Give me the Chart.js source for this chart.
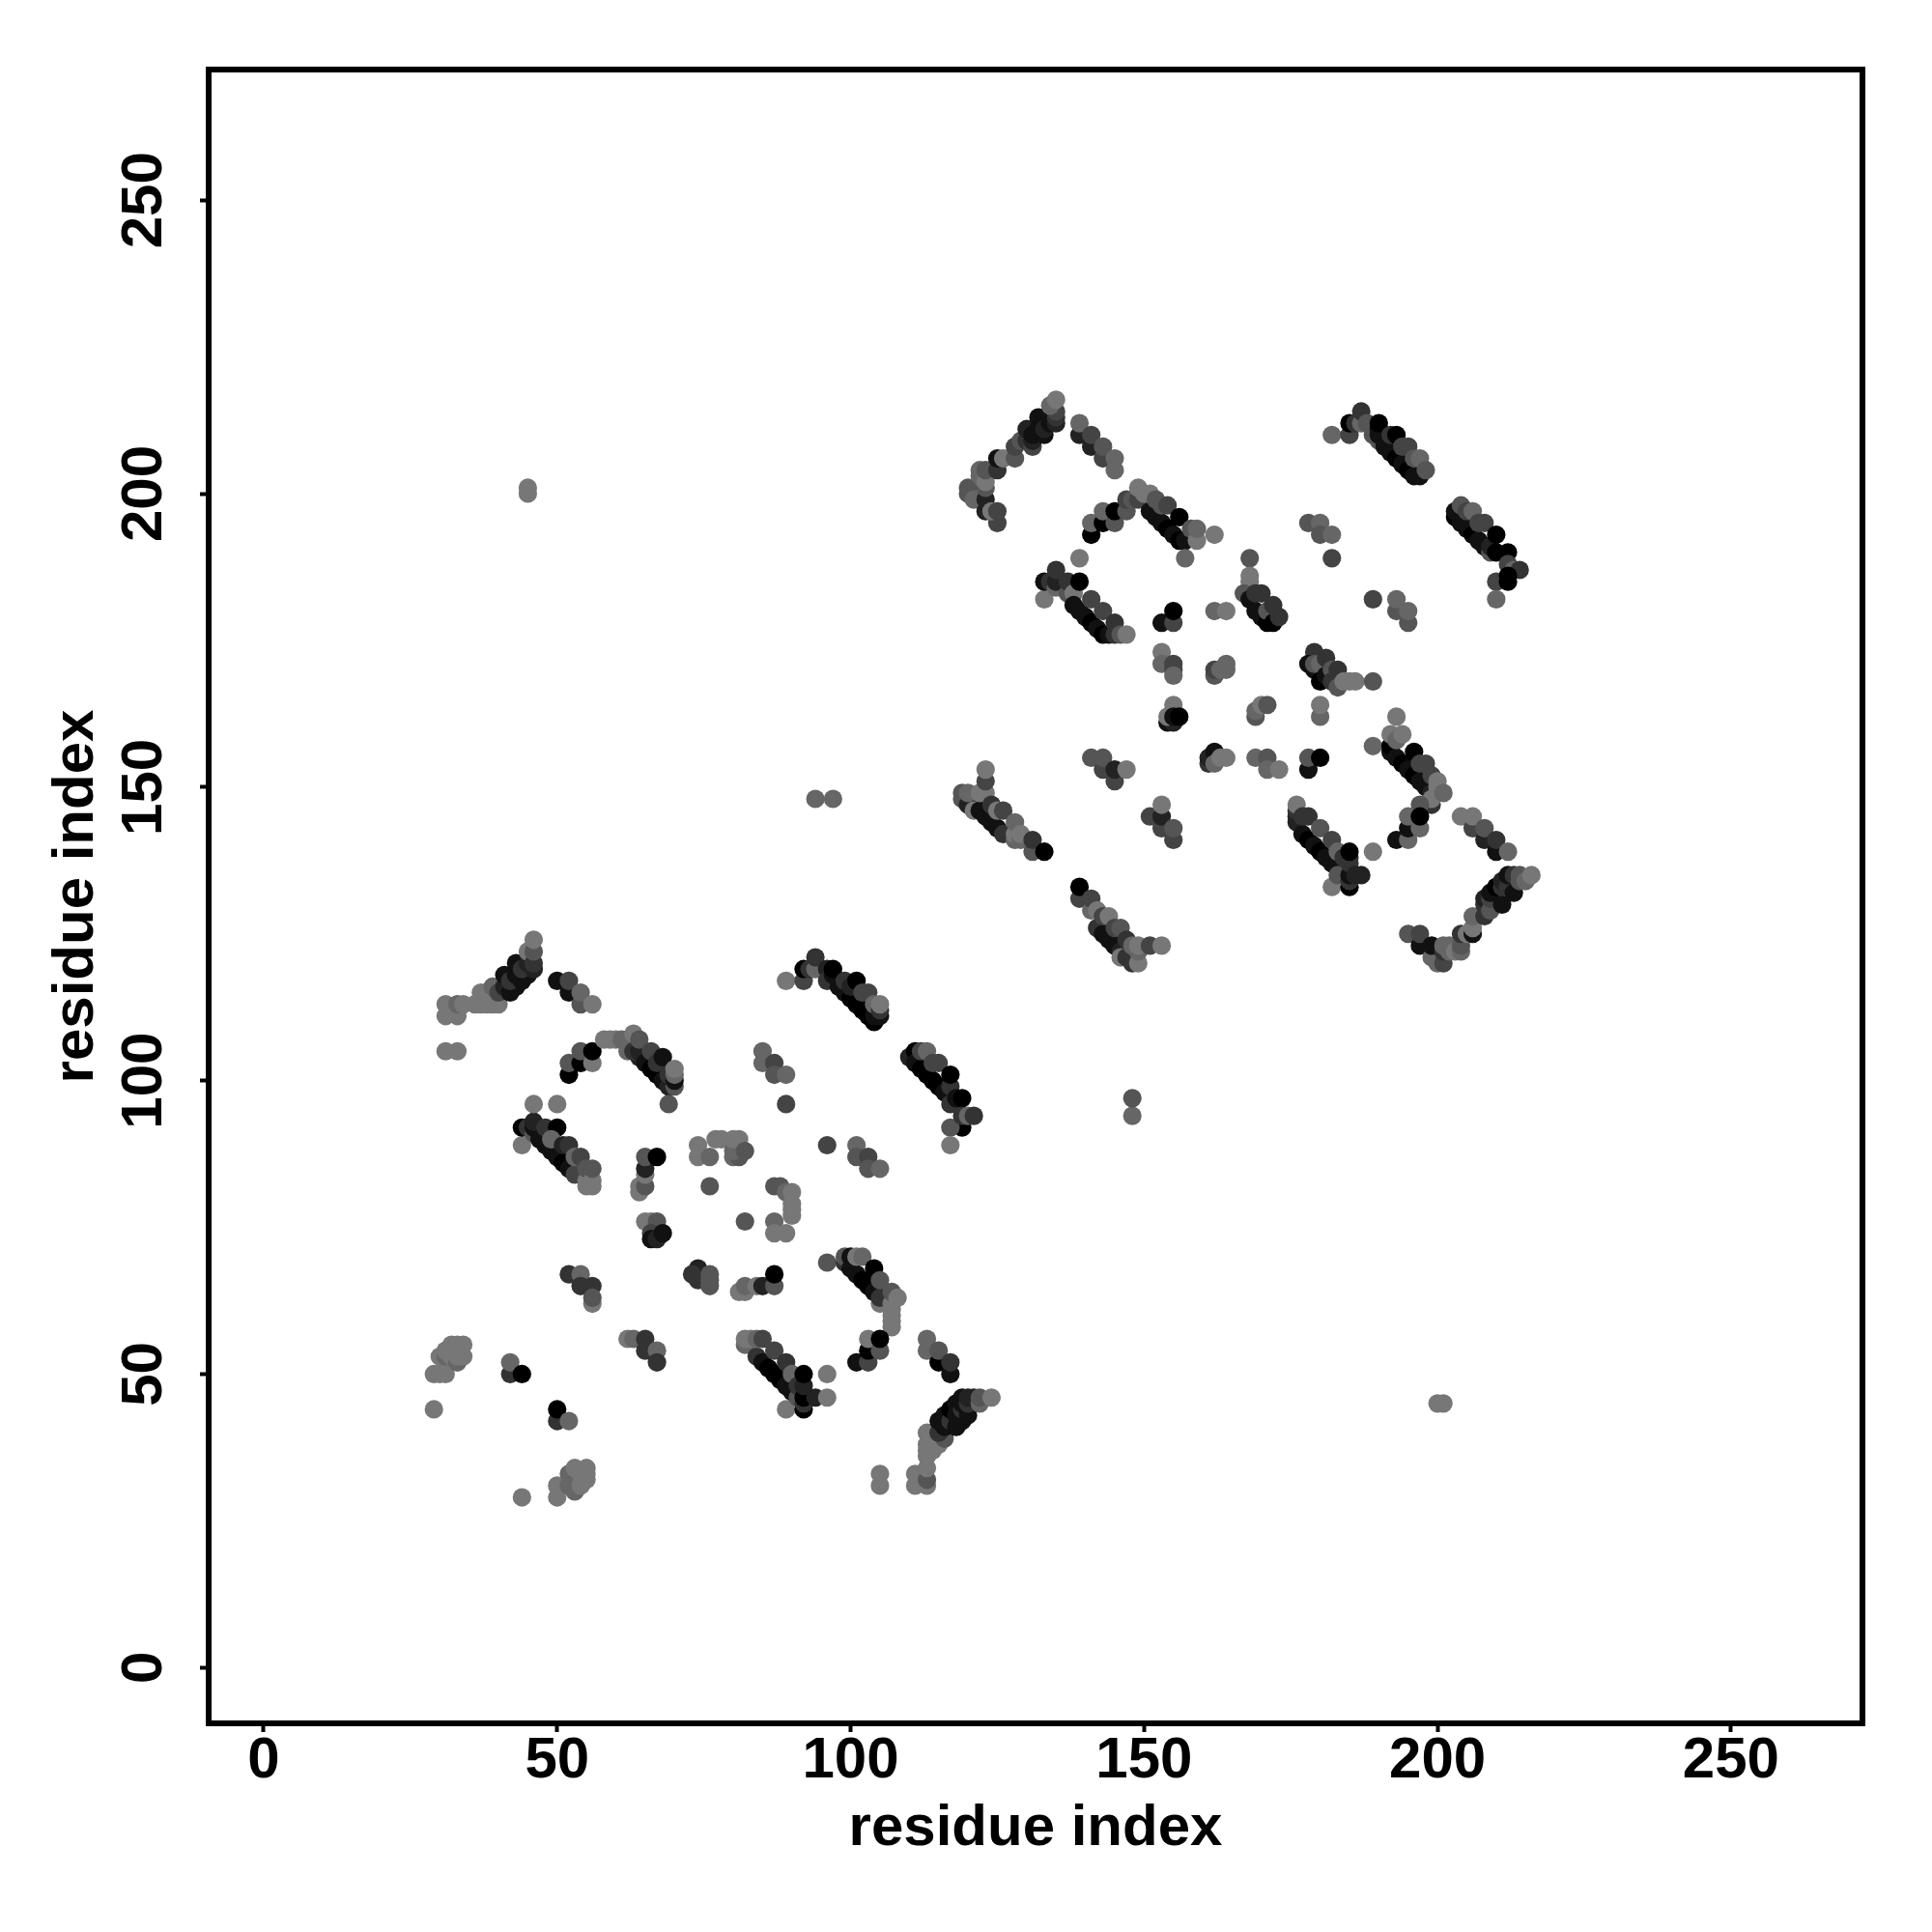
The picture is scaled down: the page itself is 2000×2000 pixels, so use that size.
<!DOCTYPE html>
<html>
<head>
<meta charset="utf-8">
<title>residue contacts</title>
<script src="https://cdn.jsdelivr.net/npm/chart.js@4/dist/chart.umd.min.js"></script>
<style>
  html, body { margin: 0; padding: 0; background: #fff; }
  canvas { display: block; }
</style>
</head>
<body>
<canvas id="contactMap" width="2000" height="2000"></canvas>
<script>
'use strict';

const tickValues = [0, 50, 100, 150, 200, 250];
const axisLabel = 'residue index';

// each contact is [residue, residue, level]; level 0 is the darkest, 7 the lightest
const lowerLeftRise = [
  [31,105,7],[33,105,7],[31,111,7],[33,111,7],[31,113,7],[33,113,6],[34,113,7],[36,113,7],[37,113,7],[38,113,7],
  [39,113,7],[40,113,7],[37,115,7],[38,115,7],[39,116,6],[40,115,4],[41,116,2],[42,115,1],[43,116,1],[41,118,1],
  [42,117,3],[43,118,1],[44,117,1],[45,118,1],[43,120,1],[44,119,3],[45,120,2],[46,119,2],[45,122,7],[46,120,3],
  [46,122,5],[46,124,7]
];
const lowerLeftFall = [[50,117,1],[52,115,1],[52,117,4],[54,113,5],[54,115,6],[56,113,7]];
const lowerArc = [
  [52,101,0],[52,103,5],[54,103,0],[54,105,5],[56,103,7],[56,105,0],[58,107,7],[59,107,7],[60,107,7],[61,107,6],
  [62,107,6],[62,105,6],[63,108,7],[64,104,2],[63,105,3],[64,105,2],[64,107,5],[65,103,1],[66,102,0],[67,101,0],
  [68,100,1],[69,99,2],[66,105,4],[67,103,3],[68,104,1],[69,101,3],[70,99,5],[70,100,1],[70,101,6],[70,102,7],
  [69,96,5]
];
const lowerBand = [
  [44,89,7],[44,92,0],[45,92,3],[46,91,5],[46,92,1],[46,93,2],[46,96,7],[47,90,1],[48,89,1],[49,88,1],
  [50,87,1],[51,86,0],[52,85,1],[53,84,4],[48,92,3],[50,96,7],[50,92,0],[49,90,6],[51,89,2],[52,89,3],
  [53,87,6],[54,87,4],[55,82,7],[55,83,7],[55,85,5],[56,82,7],[56,83,7],[56,85,5]
];
const lowerStub = [[64,81,7],[64,82,7],[65,82,5],[65,84,7],[65,85,2],[65,87,5],[67,87,0]];
const upperCurve = [
  [89,117,7],[92,117,4],[92,119,0],[93,119,3],[94,119,6],[94,121,3],[96,119,2],[96,117,3],[97,118,1],[97,119,0],
  [98,116,1],[99,115,1],[100,114,0],[101,113,0],[102,112,0],[103,111,0],[104,110,0],[99,117,3],[100,116,2],[101,117,0],
  [102,115,4],[103,115,4],[104,111,1],[104,113,6],[105,111,1],[105,112,3],[105,113,7]
];
const upperTail = [
  [110,104,2],[111,105,0],[111,103,1],[112,102,0],[113,101,0],[114,100,0],[115,99,0],[116,98,1],[112,105,4],[113,105,6],
  [114,103,4],[115,103,4],[117,99,3],[117,101,0],[117,96,3],[118,97,1],[119,97,0],[119,92,0],[117,92,5],[117,89,7],
  [119,94,3],[120,94,6],[121,94,3]
];
const middleScatter = [
  [85,105,6],[85,103,6],[87,103,4],[87,101,5],[89,101,6],[89,96,4],[96,89,4],[101,89,6],[101,87,5],[103,87,4],
  [103,85,5],[105,85,6],[74,89,7],[74,87,7],[76,87,6],[77,90,7],[78,90,7],[80,87,6],[81,87,5],[80,88,6],
  [80,90,7],[81,90,7],[82,88,5],[76,82,5],[87,82,5],[88,82,5],[89,81,6],[90,81,7],[90,79,7],[90,78,7],
  [90,77,7],[87,76,6],[87,74,7],[89,74,7],[82,76,5]
];
const lowerKnot = [
  [65,76,7],[66,76,7],[67,76,5],[66,74,4],[66,73,1],[67,73,2],[68,74,1],[74,68,2],[73,67,3],[74,66,3],
  [76,65,5],[76,66,5],[76,67,5],[81,64,7],[82,64,7],[82,65,6],[84,65,7],[85,65,2],[87,65,5],[87,67,0]
];
const lowerSmall = [
  [52,67,3],[54,67,6],[54,65,3],[56,65,3],[56,62,7],[56,63,5],[62,56,7],[63,56,6],[65,56,3],[65,54,3],
  [67,54,6],[67,52,3],[29,50,7],[30,50,7],[31,50,7],[30,53,7],[31,52,7],[31,53,6],[31,54,7],[32,53,7],
  [32,55,7],[33,52,6],[33,53,7],[33,55,7],[34,53,7],[34,55,7],[29,44,7],[42,50,3],[42,52,6],[44,50,0],
  [50,42,3],[50,44,0],[52,42,6],[44,29,7],[50,29,7],[50,31,7],[52,31,6],[52,33,6],[53,30,6],[53,34,7],
  [54,31,7],[54,33,7],[55,32,7],[55,33,7],[55,34,7]
];
const lowerHook = [
  [96,69,5],[99,69,3],[99,70,5],[100,70,1],[100,68,1],[101,67,1],[102,66,0],[103,65,0],[104,64,1],[101,70,7],
  [102,70,6],[104,68,0],[105,62,7],[105,63,3],[105,66,5],[107,58,7],[107,59,7],[107,60,7],[107,61,7],[107,62,7],
  [107,64,5],[108,63,7],[101,52,1],[103,52,4],[103,54,0],[103,56,7],[105,54,5],[105,56,0]
];
const lowerBand2 = [
  [82,55,6],[82,56,7],[83,56,7],[84,53,3],[84,56,6],[85,52,1],[85,56,4],[86,51,0],[87,50,0],[88,49,0],
  [89,48,1],[90,47,1],[87,54,4],[89,44,7],[89,52,3],[90,50,6],[91,46,5],[91,48,3],[92,44,0],[92,45,3],
  [92,46,0],[92,48,2],[92,50,0],[94,46,2],[96,46,7],[96,50,7]
];
const lowerRightFall = [[113,54,6],[113,56,6],[115,52,0],[115,54,5],[117,50,1],[117,52,3]];
const lowerRightRise = [
  [105,31,7],[105,33,7],[111,31,7],[111,33,7],[113,31,7],[113,32,5],[113,34,7],[113,36,7],[113,37,7],[113,38,7],
  [113,40,7],[114,37,7],[115,38,7],[116,39,5],[115,40,3],[115,42,1],[116,41,1],[116,43,1],[117,42,3],[117,44,0],
  [118,41,1],[118,43,1],[118,45,1],[119,42,1],[119,44,3],[120,43,1],[119,45,1],[119,46,1],[120,45,3],[120,46,2],
  [121,46,2],[122,45,6],[122,46,5],[124,46,7]
];
const upperLeftRise = [
  [120,200,5],[120,201,5],[121,199,6],[122,203,6],[122,204,6],[123,197,2],[123,199,2],[123,201,5],[123,202,7],[123,204,5],
  [125,195,4],[124,197,7],[125,197,4],[125,204,3],[125,206,1],[126,206,7],[128,206,5],[128,208,4],[129,209,5],[130,209,3],
  [130,211,2],[131,208,4],[131,209,2],[131,210,1],[132,211,1],[132,213,1],[133,210,1],[133,211,2],[134,212,1],[134,213,1],
  [135,212,2],[135,213,3],[135,214,4],[134,215,6],[135,216,7]
];
const upperLeftFall = [[139,210,2],[139,212,6],[141,208,2],[141,210,4],[143,206,4],[143,208,5],[145,204,6],[145,206,6]];
const upperArc = [
  [141,193,0],[141,195,6],[143,195,0],[143,197,6],[145,195,5],[145,197,0],[147,197,5],[147,199,4],[148,199,5],[149,199,4],
  [149,201,7],[150,200,7],[151,197,1],[152,196,1],[153,195,1],[154,194,0],[155,193,1],[156,192,0],[157,192,1],[151,200,7],
  [152,199,5],[153,198,5],[154,198,4],[156,196,0],[158,194,5],[157,189,6],[159,192,7],[159,194,6],[162,193,7]
];
const upperBand = [
  [133,182,7],[133,185,1],[134,185,3],[135,184,6],[135,185,2],[135,187,3],[137,183,5],[137,185,3],[138,183,7],[139,185,0],
  [139,189,7],[138,181,1],[139,180,1],[140,179,1],[141,178,0],[142,177,1],[143,176,0],[144,176,1],[141,182,4],[143,180,4],
  [145,176,3],[145,178,3],[146,176,5],[147,176,7]
];
const centreScatter = [
  [153,178,1],[155,178,4],[155,180,0],[162,180,6],[164,180,7],[153,173,7],[153,171,6],[155,171,4],[155,170,4],[155,169,6],
  [162,169,5],[162,170,4],[163,170,6],[164,170,6],[164,171,6],[155,164,7],[154,161,1],[155,161,2],[154,162,7],[155,162,1],
  [156,162,0],[161,154,3],[161,155,2],[162,156,1],[162,154,6],[163,155,7],[164,155,7],[169,155,6],[171,155,5],[171,153,6],
  [173,153,7],[178,153,1],[178,155,5],[180,155,0],[169,162,5],[169,163,6],[170,164,7],[171,164,5],[180,162,6],[180,164,7]
];
const upperBand2 = [
  [168,189,5],[168,185,7],[168,186,7],[167,183,5],[168,182,1],[169,180,1],[170,179,1],[169,183,3],[170,183,3],[171,178,0],
  [171,180,5],[172,178,0],[172,181,3],[173,179,3]
];
const topRightBand = [
  [182,210,6],[185,210,4],[185,212,0],[186,212,3],[187,212,6],[187,214,3],[188,212,5],[189,210,5],[189,211,5],[190,209,5],
  [190,210,1],[190,211,1],[190,212,0],[191,208,1],[192,207,1],[193,206,0],[194,205,1],[195,204,0],[196,203,1],[197,203,1],
  [192,210,3],[193,210,0],[194,208,4],[195,208,4],[196,206,5],[197,206,6],[198,204,5]
];
const topRightScatter = [
  [178,195,5],[180,195,6],[180,193,5],[182,193,6],[182,189,4],[189,182,4],[193,180,5],[193,182,6],[195,178,5],[195,180,6]
];
const topRightTail = [
  [203,196,0],[203,197,1],[204,195,1],[204,198,5],[205,194,1],[206,193,0],[207,192,1],[208,191,1],[209,190,5],[209,191,2],
  [205,197,4],[206,197,6],[207,195,4],[208,195,4],[210,190,0],[210,193,0],[212,190,0],[212,188,4],[213,187,6],[214,187,3],
  [210,185,4],[212,185,0],[212,186,0],[210,182,6]
];
const middleRightBand = [
  [179,173,3],[178,171,1],[179,170,1],[179,171,5],[180,171,6],[180,168,0],[181,169,1],[181,172,3],[182,170,5],[182,168,3],
  [183,170,3],[183,167,5],[184,168,7],[185,168,7],[186,168,7],[189,168,5]
];
const midLeftBand = [
  [119,148,5],[119,149,5],[120,147,2],[120,149,6],[121,146,7],[122,146,1],[122,149,7],[123,145,1],[123,149,7],[123,151,4],
  [123,153,7],[124,144,1],[125,143,1],[126,142,3],[124,147,3],[125,146,7],[126,146,4],[128,141,6],[128,142,7],[128,144,6],
  [129,141,6],[129,142,7],[131,139,5],[131,141,3],[133,139,0]
];
const midLowBand = [
  [139,131,4],[139,133,0],[141,129,6],[141,131,4],[142,126,3],[142,129,7],[143,125,1],[144,124,1],[145,123,1],[146,122,2],
  [143,128,4],[144,128,7],[145,126,4],[146,121,7],[146,126,5],[147,121,3],[147,124,3],[148,120,3],[148,123,6],[149,120,7],
  [149,122,6],[149,123,7],[151,123,4],[153,123,7]
];
const midScatter = [
  [141,155,5],[143,153,4],[143,155,5],[145,151,4],[145,153,2],[147,153,7],[151,145,4],[153,143,4],[153,145,2],[153,147,7],
  [155,141,4],[155,143,5]
];
const rightBand = [
  [176,144,2],[176,145,2],[176,146,3],[176,147,7],[177,142,1],[178,141,0],[179,140,1],[180,139,0],[181,138,1],[182,137,1],
  [183,137,1],[177,145,3],[178,145,3],[180,143,5],[182,141,4],[182,133,7],[183,135,5],[183,139,6],[184,138,3],[185,133,0],
  [185,134,3],[185,135,1],[185,137,3],[185,138,3],[185,139,0],[186,135,2],[187,135,2],[189,139,7]
];
const rightArc = [
  [189,157,6],[192,156,1],[192,157,0],[192,159,7],[193,155,1],[194,154,0],[195,153,1],[196,152,0],[197,151,1],[198,150,1],
  [193,158,6],[193,162,7],[194,159,7],[196,156,0],[197,154,4],[198,154,4],[199,149,2],[199,152,4],[199,147,3],[199,148,7],
  [200,150,7],[200,151,7],[201,149,6],[197,147,5],[193,141,1],[195,141,6],[195,143,1],[195,145,6],[197,143,6],[197,145,0]
];
const rightFall = [[204,145,7],[206,143,4],[206,145,7],[208,141,2],[208,143,5],[210,139,1],[210,141,3],[212,139,6]];
const rightRise = [
  [195,125,5],[197,123,1],[197,125,4],[199,121,6],[199,123,1],[200,120,6],[201,120,4],[201,122,3],[201,123,6],[202,122,6],
  [202,123,6],[203,122,7],[204,122,6],[204,123,5],[204,125,3],[205,125,7],[206,125,1],[206,126,7],[206,128,6],[208,128,3],
  [208,130,3],[208,131,2],[209,129,5],[209,131,4],[209,132,1],[210,133,0],[211,130,1],[211,133,3],[211,134,2],[212,133,3],
  [213,132,1],[212,135,1],[213,135,3],[214,134,5],[214,135,5],[215,134,6],[216,135,7]
];
const strays = [[45,200,7],[45,201,7],[94,148,6],[97,148,6],[148,94,6],[148,97,5],[200,45,7],[201,45,7]];

const contactGroups = [
  lowerLeftRise, lowerLeftFall, lowerArc, lowerBand, lowerStub, upperCurve, upperTail, middleScatter,
  lowerKnot, lowerSmall, lowerHook, lowerBand2, lowerRightFall, lowerRightRise, upperLeftRise, upperLeftFall,
  upperArc, upperBand, centreScatter, upperBand2, topRightBand, topRightScatter, topRightTail, middleRightBand,
  midLeftBand, midLowBand, midScatter, rightBand, rightArc, rightFall, rightRise, strays
];

const contacts = contactGroups.flat();

function levelToGrey(level) {
  const v = level * 17;
  return `rgb(${v}, ${v}, ${v})`;
}

function fixedTicks(scale) {
  scale.ticks = tickValues.map(value => ({ value }));
}

function axisOptions(min, max, size) {
  return {
    type: 'linear',
    min,
    max,
    afterBuildTicks: fixedTicks,
    grid: { display: true, drawOnChartArea: false, drawTicks: true, tickLength: 9, tickWidth: 4, tickColor: '#000' },
    border: { display: false },
    ticks: {
      color: '#000',
      autoSkip: false,
      font: { family: '"Liberation Sans"', size: 60, weight: 'bold' }
    },
    title: {
      display: true,
      text: axisLabel,
      color: '#000',
      font: { family: '"Liberation Sans"', size: 60, weight: 'bold' }
    },
    afterFit(scale) {
      if (scale.isHorizontal()) scale.height = size;
      else scale.width = size;
    }
  };
}

// R style box round the plot
const framePlugin = {
  id: 'frame',
  afterDraw(chart) {
    const { ctx, chartArea: a } = chart;
    ctx.save();
    ctx.strokeStyle = '#000';
    ctx.lineWidth = 6;
    ctx.strokeRect(a.left, a.top, a.right - a.left, a.bottom - a.top);
    ctx.restore();
  }
};

const xAxis = axisOptions(-9.38, 272.4, 216);
xAxis.ticks.maxRotation = 0;
xAxis.ticks.minRotation = 0;
xAxis.ticks.padding = -6;
xAxis.title.padding = { top: 0, bottom: 71 };

const yAxis = axisOptions(-9.5, 272.25, 216);
yAxis.ticks.minRotation = 90;
yAxis.ticks.maxRotation = 90;
yAxis.ticks.crossAlign = 'center';
yAxis.ticks.padding = 6;
yAxis.title.padding = { top: 43, bottom: 0 };

new Chart(document.getElementById('contactMap').getContext('2d'), {
  type: 'scatter',
  data: {
    datasets: [{
      data: contacts.map(c => ({ x: c[0], y: c[1] })),
      backgroundColor: contacts.map(c => levelToGrey(c[2])),
      borderWidth: 0,
      pointRadius: 9.6,
      pointHoverRadius: 9.6
    }]
  },
  options: {
    responsive: false,
    animation: false,
    devicePixelRatio: 1,
    layout: { padding: { left: 0, top: 72, right: 72, bottom: 0 } },
    plugins: { legend: { display: false }, tooltip: { enabled: false } },
    scales: { x: xAxis, y: yAxis }
  },
  plugins: [framePlugin]
});
</script>
</body>
</html>
